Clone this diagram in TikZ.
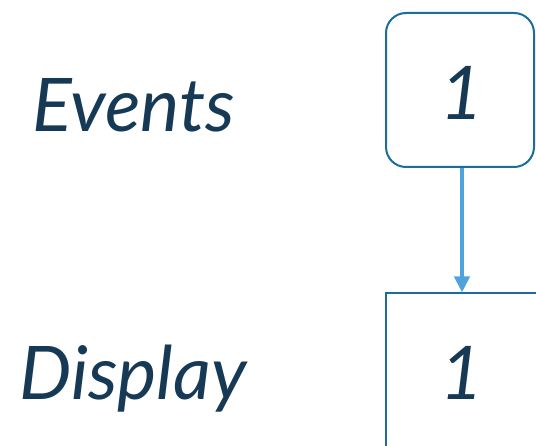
\documentclass[tikz,border=0pt]{standalone}
\usepackage{fontspec}
\setmainfont{Lato}
\usetikzlibrary{arrows.meta}
\definecolor{inkblue}{HTML}{163A55}
\definecolor{framecol}{HTML}{1B6E9C}
\definecolor{linkcol}{HTML}{4EA3DC}
\tikzset{
  label text/.style={text=inkblue, font=\itshape\fontsize{74}{80}\selectfont, inner sep=0pt, anchor=base},
  state box/.style={draw=framecol, line width=2pt},
  link/.style={draw=linkcol, line width=4pt, -{Triangle[length=16pt,width=15pt]}, shorten >=0.5pt}
}
\begin{document}
\begin{tikzpicture}[x=1pt,y=-1pt]
\useasboundingbox (0,0) rectangle (536,446);
\begin{scope}
\clip (0,0) rectangle (536,446);
% row labels
\node[label text] (ev) at (134,132) {Events};
\node[label text] (dp) at (133,400) {Display};
% event box with rounded corners, and the cut-off display box
\draw[state box, rounded corners=20pt] (386,13) rectangle (534,167);
\node[label text] (n1) at (462,120) {1};
\draw[state box] (386,460) |- (560,293);
\coordinate (dtop) at (462,293);
\coordinate (ebot) at (462,168);
\node[label text] (n2) at (462,400) {1};
\draw[link] (ebot) -- (dtop);
\end{scope}
\end{tikzpicture}
\end{document}
